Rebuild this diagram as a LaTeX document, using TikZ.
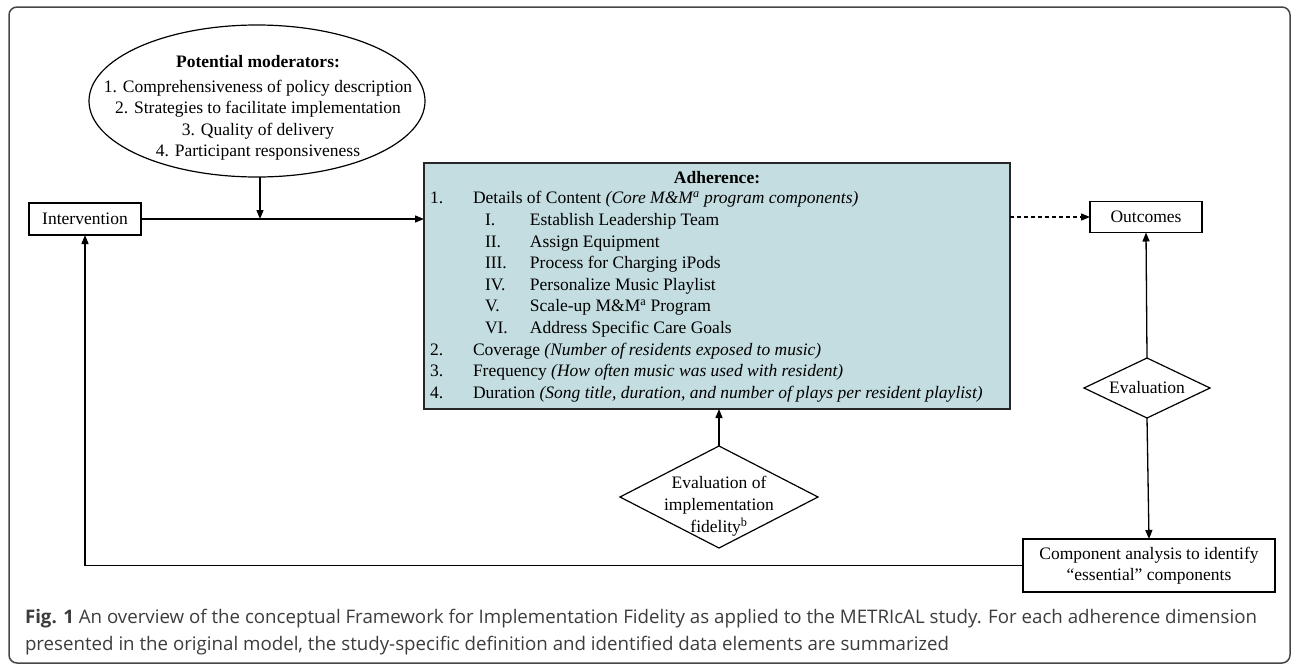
\documentclass[tikz,border=0pt]{standalone}
\usepackage{fontspec}
\setmainfont{Liberation Serif}
\newfontfamily\capfont{Open Sans}
\usetikzlibrary{shapes.geometric,arrows.meta}
\definecolor{adhfill}{RGB}{196,221,224}
\definecolor{capgray}{RGB}{60,60,60}
\definecolor{framegray}{RGB}{70,70,70}
\begin{document}
\begin{tikzpicture}[x=1pt,y=-1pt,
  every node/.style={font=\fontsize{17.5}{21.6}\selectfont, inner sep=0pt, outer sep=0pt},
  conn/.style={line width=1.3pt, -{Triangle[length=9pt,width=7pt]}},
  plainbox/.style={draw, line width=1.3pt, rectangle},
  dia/.style={draw, diamond, line width=1.2pt},
  frame/.style={draw=framegray, line width=1.5pt, rounded corners=8pt}]
\useasboundingbox (0,0) rectangle (1292,664);
\draw[frame] (9,7) rectangle (1290,663);

% moderators ellipse
\node[draw, ellipse, line width=1.2pt, minimum width=336pt, minimum height=152pt] (mod) at (257,101) {};
\node[align=center] (modtext) at (258,108) {\textbf{Potential moderators:}\\[3pt]
  1. Comprehensiveness of policy description\\
  2. Strategies to facilitate implementation\\
  3. Quality of delivery\\
  4. Participant responsiveness};

% intervention
\node[plainbox, minimum width=112pt, minimum height=32pt] (int) at (85,219) {Intervention};

% adherence box
\node[draw=black!85, fill=adhfill, line width=1.5pt, minimum width=586pt, minimum height=246pt] (adh) at (717,286) {};
\node (adhtitle) at (717,177.5) {\textbf{Adherence:}};
\node[anchor=north west, align=left] (adhlist) at (430,191.5) {%
  \makebox[43pt][l]{1.}Details of Content \textit{(Core M\&M\textsuperscript{a} program components)}\\
  \hspace*{55pt}\makebox[45pt][l]{I.}Establish Leadership Team\\
  \hspace*{55pt}\makebox[45pt][l]{II.}Assign Equipment\\
  \hspace*{55pt}\makebox[45pt][l]{III.}Process for Charging iPods\\
  \hspace*{55pt}\makebox[45pt][l]{IV.}Personalize Music Playlist\\
  \hspace*{55pt}\makebox[45pt][l]{V.}Scale-up M\&M\textsuperscript{a} Program\\
  \hspace*{55pt}\makebox[45pt][l]{VI.}Address Specific Care Goals\\
  \makebox[43pt][l]{2.}Coverage \textit{(Number of residents exposed to music)}\\
  \makebox[43pt][l]{3.}Frequency \textit{(How often music was used with resident)}\\
  \makebox[43pt][l]{4.}Duration \textit{(Song title, duration, and number of plays per resident playlist)}};

% outcomes and evaluation
\node[plainbox, minimum width=112pt, minimum height=31pt] (out) at (1146,217) {Outcomes};
\node[dia, aspect=2.1, minimum width=126pt, minimum height=60pt] (eval) at (1147,388) {Evaluation};

% fidelity diamond
\node[dia, minimum width=198pt, minimum height=102pt] (fid) at (719,497) {};
\node[align=center, font=\fontsize{17.5}{22}\selectfont] (fidtext) at (719,506) {Evaluation of\\implementation\\fidelity\textsuperscript{b}};

% component analysis
\node[plainbox, minimum width=252pt, minimum height=53pt, align=center, font=\fontsize{17.5}{20.5}\selectfont] (comp) at (1149,565.5) {Component analysis to identify\\“essential” components};

% connectors
\coordinate (j) at (260,219);
\draw[conn] (int.east) -- (adh.west |- int.east);
\draw[conn] (mod.south -| j) -- (j);
\draw[conn, dash pattern=on 4pt off 3pt] (adh.east |- out.west) -- (out.west);
\draw[conn] (eval.north) -- (out.south);
\draw[conn] (eval.south) -- (comp.north);
\draw[conn] (fid.north) -- (adh.south -| fid.north);
\draw[conn] (comp.west) -- (int.south |- comp.west) -- (int.south);

% caption
\node[anchor=north west, align=left, text=capgray, font=\capfont\fontsize{18.7}{27}\selectfont] (cap) at (25,609) {\textbf{Fig. 1} An overview of the conceptual Framework for Implementation Fidelity as applied to the METRIcAL study. For each adherence dimension\\
presented in the original model, the study-specific definition and identified data elements are summarized};
\end{tikzpicture}
\end{document}
